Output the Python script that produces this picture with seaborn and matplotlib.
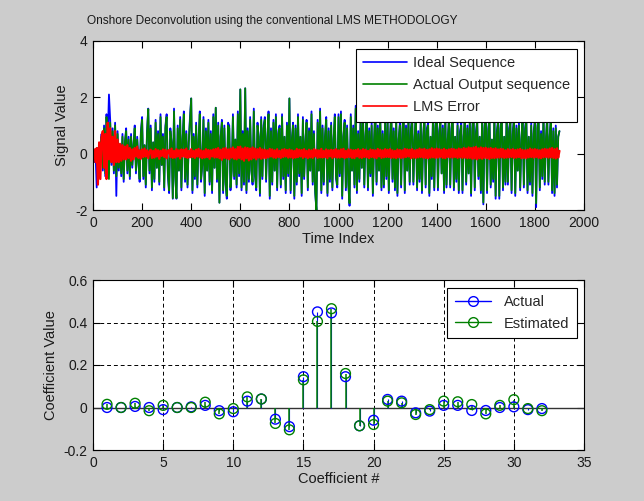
import numpy as np
import pandas as pd
import matplotlib
matplotlib.use("Agg")
import matplotlib.pyplot as plt
import seaborn as sns
from matplotlib.lines import Line2D
from matplotlib.legend_handler import HandlerLine2D

# ---------------- data (sampled every 5 time steps) ----------------
time_step = 5
actual_output = [
    .1, -.2, .15, -.3, .2, -.35, .1, .6, -.5, .9,
    -.7, 1.3, .4, -.9, 1.1, -.3, .8, -.6, 1.0, -.8,
    .7, -.5, .3, -.7, .6, -.9, .4, .8, -.6, .5,
    -.8, .6, -.4, .3, .9, -.6, .5, -.3, -.9, .7,
    1.2, -.8, .3, -1.1, .7, 1.58, -.6, .9, -1.2, .4,
    -.9, 1.1, -.5, .7, -1.0, 1.3, -.4, .6, -1.2, .9,
    1.3, -.7, -1.3, .8, .4, -1.58, 1.5, -.8, -1.58, .9,
    -.6, 1.2, -1.2, .5, 1.4, -.9, .7, -1.1, .4, 1.2,
    1.96, -1.3, .6, -.8, 1.0, -1.1, .5, 1.4, -.9, -.4,
    1.2, -1.4, .8, -.6, 1.1, -1.0, .7, -1.3, 1.3, -.5,
    1.63, -.9, 1.0, -1.74, .6, 1.1, -1.3, .9, -1.0, -1.5,
    1.0, .9, -1.2, -.6, 1.3, -.8, .5, -1.1, 1.4, -.7,
    2.28, -1.2, .7, -1.0, 2.32, -1.3, .8, -.9, 1.2, -.6,
    -1.0, 1.5, -.7, -1.2, 1.0, .6, -1.4, 1.2, -.8, .9,
    1.2, -.9, .5, 1.4, -1.5, .8, -1.0, 1.1, -.6, 1.3,
    -1.2, .7, .9, -1.1, 1.3, -.8, .6, -1.3, 1.0, -.7,
    1.96, -1.3, .5, 1.0, -1.5, .9, -1.0, 1.3, -.7, .6,
    -1.4, 1.2, -.8, .4, 1.1, -1.2, .8, -.6, 1.4, -1.0,
    .7, -1.3, -2.0, 1.1, -.6, 1.5, -1.3, .9, -1.0, .6,
    1.2, -1.4, .8, -.9, 1.0, -1.2, .5, 1.3, -.8, -1.1,
    1.3, -.7, 1.4, -1.5, .6, 1.1, -1.2, .9, -1.0, -1.76,
    1.3, -.6, .9, -1.1, 1.6, -1.3, .7, -.9, 1.2, -.5,
    1.2, -1.1, .6, 1.4, -1.2, .8, -.7, 1.0, -1.4, .5,
    1.5, -1.0, .9, -.6, 1.3, -1.2, .7, -1.1, 1.1, -.8,
    1.1, -1.3, .6, 1.4, -.9, .8, -1.2, 1.2, -1.4, .5,
    1.0, -1.1, .7, 1.5, -1.3, .9, -.6, 1.2, -1.0, .8,
    1.2, -1.0, .5, 1.4, -1.2, .7, -.9, 1.1, -1.3, .6,
    1.3, -1.1, .8, 1.0, -1.4, .6, -.8, 1.3, -1.2, .9,
    1.5, -1.2, .7, 1.1, -.7, .9, -1.3, 1.3, -1.1, .5,
    1.2, -1.1, .8, 1.4, -1.2, .6, -.9, 1.0, -1.3, .7,
    1.0, -1.3, .6, 1.3, -1.0, .9, -.7, 1.2, -1.4, .8,
    1.5, -1.2, .7, 1.1, -.8, .6, -1.3, 1.2, -1.73, .9,
    1.4, -1.3, .8, 1.2, -1.1, .5, -.9, 1.3, -1.5, .7,
    1.1, -1.5, .9, 1.2, -1.2, .6, -1.0, 1.4, -1.0, .8,
    1.1, -1.3, .7, 1.2, -1.4, .9, -.6, 1.0, -1.2, .5,
    1.3, -1.1, .8, 1.2, -1.3, .6, -1.0, 1.0, -1.4, .7,
    1.1, -1.76, .9, 1.2, -1.2, .7, -.8, 1.3, -1.0, .5,
    1.25, -1.0, .6, 1.2, -1.3, .8, -1.4, .9, -1.1, .6,
    .8,
]
ideal_sequence = [
    .1, -.3, .15, -1.2, .2, -.4, .1, .7, -.6, 1.0,
    -.8, 1.4, .5, 2.1, 1.2, -.4, .9, -.7, 1.1, -1.5,
    .8, -.6, .3, -.8, .7, -1.0, .4, .9, -.7, .6,
    -.9, .7, -.5, .3, 1.0, -.7, .6, -.3, -1.0, .8,
    1.3, -.9, .3, -1.2, .8, 1.6, -.7, 1.0, -1.3, .4,
    -1.0, 1.2, -.5, .8, -1.1, 1.4, -.4, .7, -1.3, 1.0,
    1.4, -.8, -1.4, .9, .4, -1.6, 1.6, -.8, -1.6, 1.0,
    -.6, 1.3, -1.3, .5, 1.5, -1.0, .8, -1.2, .4, 1.3,
    1.96, -1.4, .7, -.9, 1.1, -1.2, .5, 1.5, -1.0, -.4,
    1.3, -1.5, .9, -.6, 1.2, -1.1, .8, -1.4, 1.4, -.5,
    1.63, -1.0, 1.1, -1.74, .6, 1.2, -1.4, 1.0, -1.1, -1.6,
    1.1, 1.0, -1.3, -.6, 1.4, -.9, .5, -1.2, 1.5, -.8,
    2.28, -1.3, .8, -1.1, 2.32, -1.4, .9, -1.0, 1.3, -.6,
    -1.1, 1.6, -.8, -1.3, 1.1, .6, -1.5, 1.3, -.9, 1.0,
    1.3, -1.0, .5, 1.5, -1.6, .9, -1.1, 1.2, -.6, 1.4,
    -1.3, .8, 1.0, -1.2, 1.4, -.9, .6, -1.4, 1.1, -.8,
    1.96, -1.4, .5, 1.1, -1.6, 1.0, -1.1, 1.4, -.8, .6,
    -1.5, 1.3, -.9, .4, 1.2, -1.3, .9, -.6, 1.5, -1.1,
    .8, -1.4, -2.0, 1.2, -.6, 1.6, -1.4, 1.0, -1.1, .6,
    1.3, -1.5, .9, -1.0, 1.1, -1.3, .5, 1.4, -.9, -1.2,
    1.4, -.8, 1.5, -1.6, .6, 1.2, -1.3, 1.0, -1.1, -1.85,
    1.4, -.6, 1.0, -1.2, 1.7, -1.4, .8, -1.0, 1.3, -.5,
    1.3, -1.2, .6, 1.5, -1.3, .9, -.8, 1.1, -1.5, .5,
    1.6, -1.1, 1.0, -.6, 1.4, -1.3, .8, -1.2, 1.2, -.9,
    1.2, -1.4, .6, 1.5, -1.0, .9, -1.3, 1.3, -1.5, .5,
    1.1, -1.2, .8, 1.6, -1.4, 1.0, -.6, 1.3, -1.1, .9,
    1.3, -1.1, .5, 1.5, -1.3, .8, -1.0, 1.2, -1.4, .6,
    1.4, -1.2, .9, 1.1, -1.5, .6, -.9, 1.4, -1.3, 1.0,
    1.6, -1.3, .8, 1.2, -.7, 1.0, -1.4, 1.4, -1.2, .5,
    1.3, -1.2, .9, 1.5, -1.3, .6, -1.0, 1.1, -1.4, .8,
    1.1, -1.4, .6, 1.4, -1.1, 1.0, -.7, 1.3, -1.5, .9,
    1.6, -1.3, .8, 1.2, -.9, .6, -1.4, 1.3, -1.8, 1.0,
    1.5, -1.4, .9, 1.3, -1.2, .5, -1.0, 1.4, -1.6, .8,
    1.2, -1.6, 1.0, 1.3, -1.3, .6, -1.1, 1.5, -1.1, .9,
    1.2, -1.4, .8, 1.3, -1.5, 1.0, -.6, 1.1, -1.3, .5,
    1.4, -1.2, .9, 1.3, -1.4, .6, -1.1, 1.1, -1.5, .8,
    1.2, -1.9, 1.0, 1.3, -1.3, .8, -.9, 1.4, -1.1, .5,
    1.35, -1.1, .6, 1.3, -1.4, .9, -1.5, 1.0, -1.2, .6,
    .8,
]
lms_error = [
    0, .15, -.3, .2, -1.1, .4, -.9, .6, .8, -.5,
    .7, -.9, 1.1, -.2, .9, -.3, .6, -.4, .8, -.3,
    .5, -.3, .35, -.25, .3, -.2, .25, -.2, .3, -.15,
    .2, -.25, .15, -.2, .2, -.1, .25, -.15, .12, -.18,
    .15, -.12, .18, -.1, .12, -.16, .08, .14, -.15, .1,
    -.14, .16, -.1, .12, -.18, .1, -.08, .15, -.12, .14,
    -.16, .1, .13, -.12, .18, -.15, .1, -.14, .16, -.1,
    .12, -.17, .15, -.1, .14, -.12, .18, -.15, .1, -.13,
    .16, -.12, .1, -.15, .14, -.1, .17, -.13, .12, -.16,
    .1, -.14, .16, -.12, .13, -.18, .12, -.1, .15, -.14,
    .17, -.13, .2, -.16, .14, -.22, .18, -.15, .2, -.17,
    .15, -.2, .18, -.14, .22, -.18, .16, -.2, .24, -.15,
    .25, -.2, .18, -.25, .22, -.16, .2, -.24, .18, -.2,
    .22, -.15, .18, -.2, .16, -.14, .2, -.18, .15, -.16,
    .14, -.16, .12, -.13, .17, -.1, .15, -.14, .12, -.15,
    .16, -.12, .1, -.15, .14, -.12, .16, -.1, .13, -.14,
    .15, -.13, .12, -.16, .1, -.14, .17, -.12, .14, -.1,
    .13, -.15, .16, -.12, .1, -.16, .14, -.13, .12, -.15,
    .16, -.1, .14, -.15, .12, -.13, .17, -.14, .1, -.12,
    .15, -.16, .12, -.1, .14, -.15, .13, -.12, .16, -.14,
    .12, -.14, .15, -.12, .17, -.16, .1, -.13, .15, -.12,
    .14, -.15, .12, -.16, .13, -.1, .16, -.14, .12, -.15,
    .16, -.12, .14, -.13, .1, -.16, .15, -.12, .13, -.14,
    .12, -.16, .17, -.1, .14, -.15, .12, -.13, .16, -.12,
    .14, -.12, .16, -.15, .12, -.14, .1, -.16, .15, -.13,
    .13, -.15, .12, -.14, .17, -.12, .15, -.1, .14, -.16,
    .16, -.14, .12, -.15, .14, -.13, .18, -.12, .15, -.14,
    .17, -.15, .13, -.16, .15, -.14, .19, -.13, .16, -.15,
    .18, -.14, .16, -.12, .14, -.15, .17, -.16, .13, -.12,
    .15, -.13, .17, -.14, .16, -.12, .14, -.15, .18, -.13,
    .16, -.15, .2, -.14, .18, -.16, .22, -.15, .2, -.18,
    .22, -.17, .24, -.2, .19, -.16, .22, -.18, .2, -.15,
    .21, -.16, .18, -.19, .2, -.15, .17, -.16, .19, -.14,
    .15, -.14, .17, -.13, .16, -.15, .12, -.14, .16, -.13,
    .14, -.12, .16, -.15, .13, -.14, .15, -.12, .17, -.16,
    .13, -.15, .12, -.16, .14, -.13, .18, -.12, .15, -.14,
    .16, -.12, .14, -.15, .12, -.16, .15, -.13, .17, -.12,
    .15, -.14, .18, -.13, .2, -.15, .16, -.17, .19, -.14,
    .1,
]

coef_index = list(range(1, 33))
coef_actual = [
    0.0, 0.0, 0.005, 0.0, -0.01, 0.0, 0.003, 0.01, -0.015, -0.02,
    0.03, 0.04, -0.055, -0.09, 0.145, 0.45, 0.445, 0.145, -0.086, -0.06,
    0.038, 0.03, -0.025, -0.017, 0.01, 0.01, -0.014, -0.014, 0.0, 0.003,
    -0.01, -0.005,
]
coef_estimated = [
    0.015, 0.0, 0.02, -0.015, 0.01, 0.0, 0.0, 0.025, -0.03, -0.005,
    0.05, 0.04, -0.075, -0.105, 0.13, 0.405, 0.465, 0.16, -0.086, -0.08,
    0.03, 0.022, -0.033, -0.01, 0.03, 0.027, 0.014, -0.03, 0.01, 0.037,
    -0.005, -0.015,
]

# ---------------- style ----------------
sns.set_theme(style="white")
plt.rcParams["font.family"] = ["Liberation Sans", "DejaVu Sans"]
plt.rcParams["axes.unicode_minus"] = False
plt.rcParams["axes.linewidth"] = 0.8
for k in ("xtick", "ytick"):
    plt.rcParams[f"{k}.direction"] = "in"
    plt.rcParams[f"{k}.major.size"] = 5
    plt.rcParams[f"{k}.major.width"] = 0.8
    plt.rcParams[f"{k}.color"] = "black"
    plt.rcParams[f"{k}.labelsize"] = 10
    plt.rcParams[f"{k}.labelcolor"] = "#1a1a1a"

BG = "#cccccc"
TXT = "#1a1a1a"
fig = plt.figure(figsize=(6.44, 5.01), dpi=100, facecolor=BG)

ax1 = fig.add_axes([93 / 644, 1 - 210 / 501, 491 / 644, 169 / 501])
ax2 = fig.add_axes([93 / 644, 1 - 450 / 501, 491 / 644, 170 / 501])

# ---------------- top panel ----------------
t = np.arange(len(actual_output)) * time_step
df = pd.DataFrame({"t": t, "ideal": ideal_sequence,
                   "actual": actual_output, "err": lms_error})
sns.lineplot(data=df, x="t", y="ideal", ax=ax1, color="#0000ff", lw=1.3,
             label="Ideal Sequence", estimator=None, sort=False)
sns.lineplot(data=df, x="t", y="actual", ax=ax1, color="#008000", lw=1.3,
             label="Actual Output sequence", estimator=None, sort=False)
sns.lineplot(data=df, x="t", y="err", ax=ax1, color="#ff0000", lw=1.6,
             label="LMS Error", estimator=None, sort=False)

ax1.set_xlim(0, 2000)
ax1.set_ylim(-2, 4)
ax1.set_xticks(np.arange(0, 2001, 200))
ax1.set_yticks([-2, 0, 2, 4])
ax1.tick_params(top=True, right=True, bottom=True, left=True, pad=4)
ax1.set_xlabel("Time Index", fontsize=10.5, color=TXT, labelpad=2)
ax1.set_ylabel("Signal Value", fontsize=10.5, color=TXT, labelpad=4)
ax1.set_title("Onshore Deconvolution using the conventional LMS METHODOLOGY",
              fontsize=8.6, color=TXT, pad=12, x=(272 - 93) / 491)
for s in ax1.spines.values():
    s.set_color("black")
leg1 = ax1.legend(loc="upper right", bbox_to_anchor=(1 - 7 / 491, 1 - 8 / 169),
                  fontsize=10.5, frameon=True, fancybox=False, framealpha=1,
                  edgecolor="black", borderpad=0.5, labelspacing=0.55,
                  handlelength=3.0, handletextpad=0.4, borderaxespad=0)
leg1.get_frame().set_linewidth(0.8)
for h in leg1.get_lines():
    h.set_linewidth(1.2)

# ---------------- bottom panel ----------------
ax2.set_axisbelow(True)
ax2.grid(True, which="major", linestyle=(0, (4, 3)), color="black", lw=0.7)
ax2.axhline(0, color="#333333", lw=1.0, zorder=2)
ax2.vlines(coef_index, 0, coef_actual, color="#0000ff", lw=0.8, zorder=3)
ax2.vlines(coef_index, 0, coef_estimated, color="#008000", lw=1.1, zorder=4)
cdf = pd.DataFrame({"n": coef_index, "act": coef_actual, "est": coef_estimated})
sns.scatterplot(data=cdf, x="n", y="act", ax=ax2, marker="o", s=50,
                facecolor="none", edgecolor="#0000ff", linewidth=1.0, zorder=5)
sns.scatterplot(data=cdf, x="n", y="est", ax=ax2, marker="o", s=50,
                facecolor="none", edgecolor="#008000", linewidth=1.0, zorder=6)

ax2.set_xlim(0, 35)
ax2.set_ylim(-0.2, 0.6)
ax2.set_xticks(np.arange(0, 36, 5))
ax2.set_yticks([-0.2, 0, 0.2, 0.4, 0.6])
ax2.set_yticklabels(["-0.2", "0", "0.2", "0.4", "0.6"])
ax2.tick_params(top=True, right=True, bottom=True, left=True, pad=4)
ax2.set_xlabel("Coefficient #", fontsize=10.5, color=TXT, labelpad=2)
ax2.set_ylabel("Coefficient Value", fontsize=10.5, color=TXT, labelpad=4)
for s in ax2.spines.values():
    s.set_color("black")


class StemHandler(HandlerLine2D):
    def get_xdata(self, legend, xdescent, ydescent, width, height, fontsize):
        xdata = np.array([-xdescent, -xdescent + width])
        xdata_marker = np.array([-xdescent + width - 3])
        return xdata, xdata_marker


h_act = Line2D([0], [0], color="#0000ff", lw=1.0, marker="o", ms=7,
               mfc="none", mec="#0000ff")
h_est = Line2D([0], [0], color="#008000", lw=1.0, marker="o", ms=7,
               mfc="none", mec="#008000")
leg2 = ax2.legend([h_act, h_est], ["Actual", "Estimated"], loc="upper right",
                  bbox_to_anchor=(1 - 7 / 491, 1 - 8 / 170), fontsize=10.5,
                  frameon=True, fancybox=False, framealpha=1, edgecolor="black",
                  borderpad=0.5, labelspacing=0.5, handlelength=2.5,
                  handletextpad=0.9, borderaxespad=0, numpoints=1,
                  handler_map={Line2D: StemHandler(numpoints=1)})
leg2.get_frame().set_linewidth(0.8)

fig.savefig("out.png", dpi=100, facecolor=BG)
